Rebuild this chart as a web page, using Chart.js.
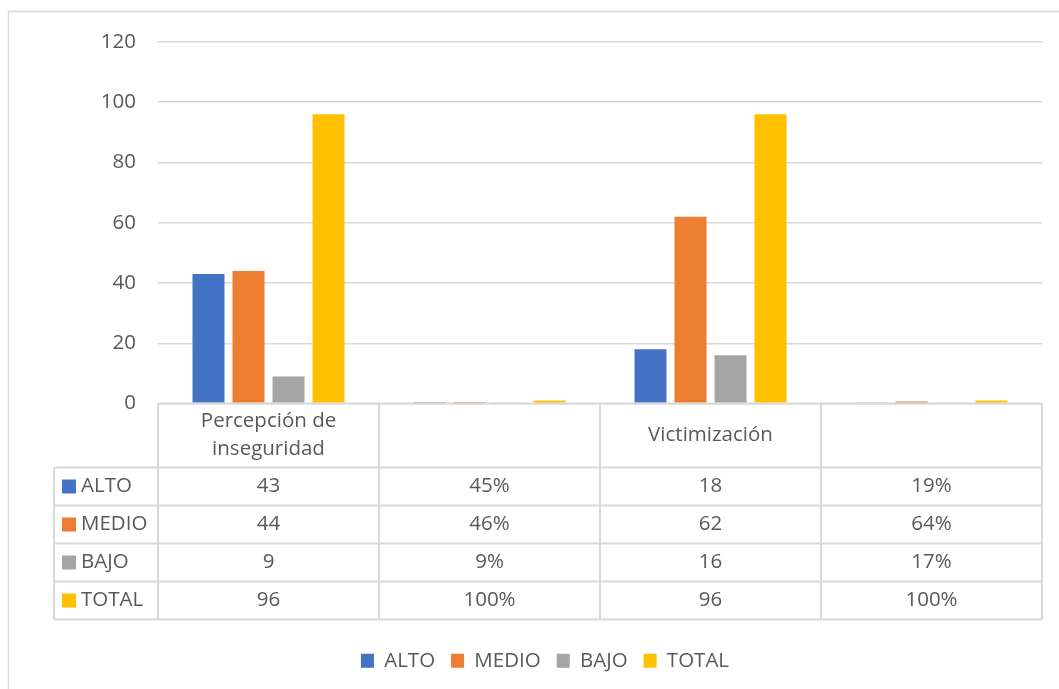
<!DOCTYPE html>
<html>
<head>
<meta charset="utf-8">
<script src="https://cdn.jsdelivr.net/npm/chart.js@4"></script>
<style>
  html, body { margin: 0; padding: 0; background: #fff; }
  #wrap { width: 1059px; height: 689px; position: relative; }
</style>
</head>
<body>
<div id="wrap"><canvas id="chart" width="1059" height="689"></canvas></div>
<script>
// categories of the chart (2nd and 4th columns hold the percentages)
let categories = [["Percepción de", "inseguridad"], "", "Victimización", ""];
let columnFormat = ["number", "percent", "number", "percent"];

let seriesNames = ["ALTO", "MEDIO", "BAJO", "TOTAL"];
let alto  = [43, 0.45, 18, 0.19];
let medio = [44, 0.46, 62, 0.64];
let bajo  = [9, 0.09, 16, 0.17];
let total = [96, 1, 96, 1];

let yTicks = [0, 20, 40, 60, 80, 100, 120];

let colors = ["#4472C4", "#ED7D31", "#A5A5A5", "#FFC000"];
let textColor = "#595959";
let lineColor = "#d9d9d9";
let fontFamily = "'Open Sans', sans-serif";
let fontSize = 20.5;

// formats a value for the data table
function fmt(v, kind) {
  if (kind === "percent") return Math.round(v * 100) + "%";
  return String(v);
}

// draws the outer frame and the data table under the plot
let dataTable = {
  id: "dataTable",
  beforeDraw(chart) {
    let c = chart.ctx;
    c.save();
    c.strokeStyle = lineColor;
    c.lineWidth = 1.5;
    c.strokeRect(8.5, 11.5, 1200, 800);
    c.restore();
  },
  afterDraw(chart) {
    let c = chart.ctx;
    let x = chart.scales.x;
    let area = chart.chartArea;
    let top = area.bottom;
    let headH = 64, rowH = 38;
    let keyLeft = 54;
    let n = categories.length;
    let colW = (area.right - area.left) / n;

    c.save();
    c.strokeStyle = lineColor;
    c.lineWidth = 2;
    c.beginPath();
    // horizontal lines
    c.moveTo(area.left, top); c.lineTo(area.right, top);
    for (let r = 0; r <= seriesNames.length; r++) {
      let y = top + headH + r * rowH;
      c.moveTo(keyLeft, y); c.lineTo(area.right, y);
    }
    // vertical lines
    let bottom = top + headH + seriesNames.length * rowH;
    c.moveTo(keyLeft, top + headH); c.lineTo(keyLeft, bottom);
    for (let i = 0; i <= n; i++) {
      let xx = area.left + i * colW;
      c.moveTo(xx, top); c.lineTo(xx, bottom);
    }
    c.stroke();

    c.fillStyle = textColor;
    c.font = fontSize + "px " + fontFamily;
    c.textAlign = "center";
    c.textBaseline = "middle";
    // header labels
    for (let i = 0; i < n; i++) {
      let cx = x.getPixelForValue(i);
      let lab = categories[i];
      if (Array.isArray(lab)) {
        c.fillText(lab[0], cx, top + headH / 2 - 14);
        c.fillText(lab[1], cx, top + headH / 2 + 14);
      } else if (lab) {
        c.fillText(lab, cx, top + headH / 2);
      }
    }
    // rows
    chart.data.datasets.forEach((ds, r) => {
      let cy = top + headH + r * rowH + rowH / 2;
      c.fillStyle = ds.backgroundColor;
      c.fillRect(keyLeft + 8, cy - 7, 14, 14);
      c.fillStyle = textColor;
      c.textAlign = "left";
      c.fillText(ds.label, keyLeft + 27, cy);
      c.textAlign = "center";
      ds.data.forEach((v, i) => {
        c.fillText(fmt(v, columnFormat[i]), x.getPixelForValue(i), cy);
      });
    });
    c.restore();
  }
};

let ctx = document.getElementById("chart").getContext("2d");
let chart = new Chart(ctx, {
  type: "bar",
  data: {
    labels: categories,
    datasets: [
      { label: seriesNames[0], data: alto,  backgroundColor: colors[0] },
      { label: seriesNames[1], data: medio, backgroundColor: colors[1] },
      { label: seriesNames[2], data: bajo,  backgroundColor: colors[2] },
      { label: seriesNames[3], data: total, backgroundColor: colors[3] }
    ]
  },
  options: {
    responsive: false,
    animation: false,
    layout: { padding: { left: 48, right: 17, top: 42, bottom: 8 } },
    datasets: { bar: { categoryPercentage: 0.724, barPercentage: 0.8 } },
    scales: {
      x: {
        grid: { display: false },
        border: { display: false },
        ticks: { display: false },
        afterFit: (scale) => { scale.height = 231; }
      },
      y: {
        min: 0,
        max: 120,
        afterBuildTicks: (scale) => { scale.ticks = yTicks.map(v => ({ value: v })); },
        afterFit: (scale) => { scale.width = 110; },
        grid: { color: lineColor, lineWidth: 1.5, drawTicks: false },
        border: { display: false },
        ticks: { color: textColor, padding: 22, font: { size: fontSize, family: fontFamily } }
      }
    },
    plugins: {
      tooltip: { enabled: false },
      legend: {
        position: "bottom",
        labels: {
          color: textColor,
          boxWidth: 13,
          boxHeight: 14,
          padding: 16,
          font: { size: fontSize, family: fontFamily }
        }
      }
    }
  },
  plugins: [dataTable]
});
</script>
</body>
</html>
